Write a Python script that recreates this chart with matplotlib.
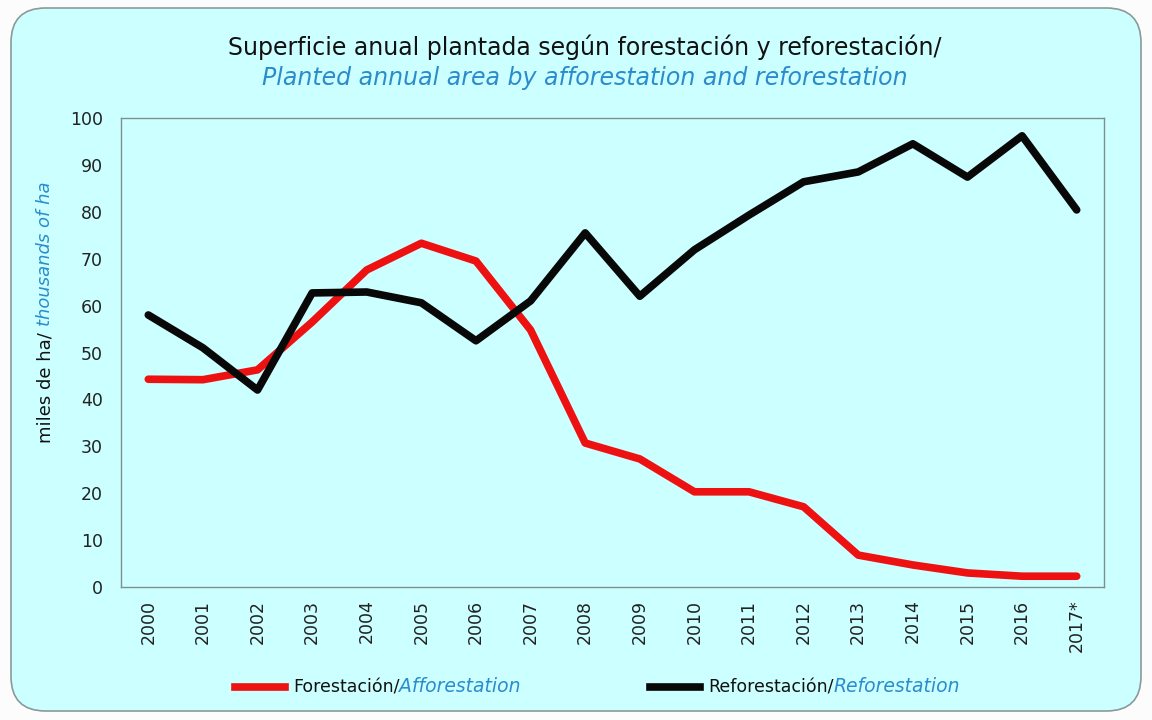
import matplotlib
matplotlib.use("Agg")
from matplotlib import pyplot as plt
from matplotlib.patches import FancyBboxPatch
from matplotlib.lines import Line2D

# data (thousands of ha)
years = ['2000', '2001', '2002', '2003', '2004', '2005', '2006', '2007', '2008',
         '2009', '2010', '2011', '2012', '2013', '2014', '2015', '2016', '2017*']
forestacion = [44.3, 44.2, 46.3, 56.5, 67.6, 73.3, 69.5, 54.8, 30.7,
               27.3, 20.3, 20.3, 17.1, 6.8, 4.7, 3.0, 2.3, 2.3]
reforestacion = [58.0, 51.0, 42.0, 62.7, 62.9, 60.6, 52.5, 61.0, 75.5,
                 62.0, 71.9, 79.3, 86.4, 88.5, 94.5, 87.4, 96.2, 80.4]

bg = '#ccffff'
blue = '#2b8ccc'
plt.rcParams['font.family'] = ['DejaVu Sans']

fig = plt.figure(figsize=(11.52, 7.2), dpi=100)
fig.patch.set_facecolor('#fdfcfc')

# rounded panel behind everything
box = FancyBboxPatch((11 / 1152, 9 / 720), 1130 / 1152, 703 / 720,
                     boxstyle='round,pad=0,rounding_size=0.03',
                     transform=fig.transFigure, facecolor=bg,
                     edgecolor='#8a9a9a', linewidth=1.2, mutation_aspect=1.6)
fig.add_artist(box)
box.set_zorder(-10)

ax = fig.add_axes([121 / 1152, 133 / 720, 983 / 1152, 469 / 720])
ax.set_facecolor(bg)
x = list(range(len(years)))
ax.plot(x, forestacion, color='#ee1111', linewidth=5.5, solid_capstyle='round',
        solid_joinstyle='round')
ax.plot(x, reforestacion, color='#080808', linewidth=5.5, solid_capstyle='round',
        solid_joinstyle='round')

ax.set_xlim(-0.5, len(years) - 0.5)
ax.set_ylim(0, 100)
ax.set_yticks(range(0, 101, 10))
ax.set_xticks(x)
ax.set_xticklabels(years, rotation=90, fontsize=12.5, color='#222222')
ax.tick_params(axis='y', labelsize=12.5, labelcolor='#222222', length=0, pad=13)
ax.tick_params(axis='x', length=0, pad=9)
for s in ax.spines.values():
    s.set_color('#7f8f8f')
    s.set_linewidth(1.0)

# title, two lines
fig.text(0.508, 0.935, 'Superficie anual plantada según forestación y reforestación/',
         ha='center', va='center', fontsize=17, color='#111111')
fig.text(0.508, 0.892, 'Planted annual area by afforestation and reforestation',
         ha='center', va='center', fontsize=17, color=blue, style='italic')

# y label with two colours, bottom of the label at about y=443 px
fig.canvas.draw()
r = fig.canvas.get_renderer()
t1 = fig.text(45 / 1152, (720 - 443) / 720, 'miles de ha/ ', rotation=90, ha='center',
              va='bottom', fontsize=13, color='#111111')
bb = t1.get_window_extent(r)
fig.text(45 / 1152, bb.y1 / 720, 'thousands of ha', rotation=90, ha='center',
         va='bottom', fontsize=13, color=blue, style='italic')

# legend drawn by hand: line swatch + two coloured texts
def legend_item(x0, color, t_es, t_en):
    fig.add_artist(Line2D([x0 / 1152, (x0 + 50) / 1152], [33 / 720, 33 / 720],
                          color=color, linewidth=5.5, transform=fig.transFigure))
    ta = fig.text((x0 + 58) / 1152, 33 / 720, t_es, ha='left', va='center',
                  fontsize=12.5, color='#111111')
    b = ta.get_window_extent(r)
    fig.text(b.x1 / 1152, 33 / 720, t_en, ha='left', va='center',
             fontsize=13.5, color=blue, style='italic')

legend_item(235, '#ee1111', 'Forestación/', 'Afforestation')
legend_item(650, '#080808', 'Reforestación/', 'Reforestation')

fig.savefig('out.png', dpi=100, facecolor=fig.get_facecolor())
